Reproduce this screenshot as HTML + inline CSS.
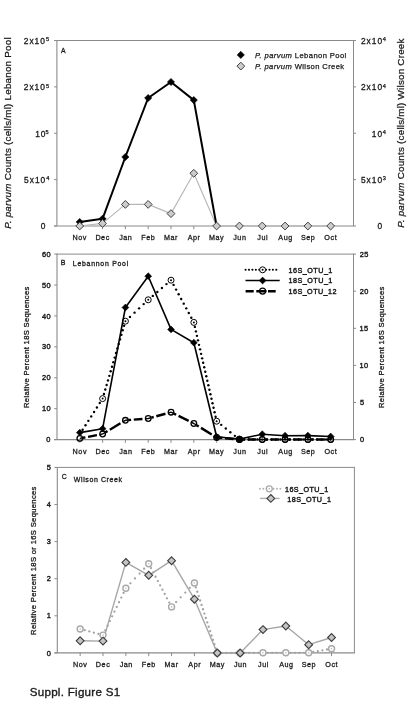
<!DOCTYPE html>
<html><head><meta charset="utf-8"><style>
html,body{margin:0;padding:0;background:#fff;}
body{width:411px;height:715px;overflow:hidden;}
svg{display:block;font-family:"Liberation Sans",sans-serif;filter:grayscale(1);}
</style></head><body>
<svg width="411" height="715" viewBox="0 0 411 715">
<rect width="411" height="715" fill="#fff"/>
<path d="M56.9 40.5H353.5" stroke="#8a8a8a" stroke-width="1"/>
<path d="M56.9 40.0V226.0" stroke="#8a8a8a" stroke-width="1.1"/>
<path d="M54.1 226.0H354.0" stroke="#8a8a8a" stroke-width="1.1"/>
<path d="M353.5 40.0V226.0" stroke="#8a8a8a" stroke-width="1"/>
<path d="M54.1 40.50H56.9" stroke="#8a8a8a" stroke-width="1"/>
<path d="M54.1 86.88H56.9" stroke="#8a8a8a" stroke-width="1"/>
<path d="M54.1 133.25H56.9" stroke="#8a8a8a" stroke-width="1"/>
<path d="M54.1 179.62H56.9" stroke="#8a8a8a" stroke-width="1"/>
<path d="M54.1 226.00H56.9" stroke="#8a8a8a" stroke-width="1"/>
<path d="M353.5 40.50H356.0" stroke="#8a8a8a" stroke-width="1"/>
<path d="M353.5 86.88H356.0" stroke="#8a8a8a" stroke-width="1"/>
<path d="M353.5 133.25H356.0" stroke="#8a8a8a" stroke-width="1"/>
<path d="M353.5 179.62H356.0" stroke="#8a8a8a" stroke-width="1"/>
<path d="M353.5 226.00H356.0" stroke="#8a8a8a" stroke-width="1"/>
<path d="M79.72 226.0V229.2" stroke="#8a8a8a" stroke-width="1"/>
<path d="M102.53 226.0V229.2" stroke="#8a8a8a" stroke-width="1"/>
<path d="M125.35 226.0V229.2" stroke="#8a8a8a" stroke-width="1"/>
<path d="M148.16 226.0V229.2" stroke="#8a8a8a" stroke-width="1"/>
<path d="M170.98 226.0V229.2" stroke="#8a8a8a" stroke-width="1"/>
<path d="M193.79 226.0V229.2" stroke="#8a8a8a" stroke-width="1"/>
<path d="M216.61 226.0V229.2" stroke="#8a8a8a" stroke-width="1"/>
<path d="M239.42 226.0V229.2" stroke="#8a8a8a" stroke-width="1"/>
<path d="M262.24 226.0V229.2" stroke="#8a8a8a" stroke-width="1"/>
<path d="M285.05 226.0V229.2" stroke="#8a8a8a" stroke-width="1"/>
<path d="M307.87 226.0V229.2" stroke="#8a8a8a" stroke-width="1"/>
<path d="M330.68 226.0V229.2" stroke="#8a8a8a" stroke-width="1"/>
<text x="23.78" y="43.80" font-size="8.4" letter-spacing="1.000" font-weight="normal" font-style="normal" fill="#1a1a1a" stroke="#1a1a1a" stroke-width="0.3">2x10</text>
<text x="46.08" y="41.30" font-size="5.6" letter-spacing="0.000" font-weight="normal" font-style="normal" fill="#1a1a1a" stroke="#1a1a1a" stroke-width="0.25">5</text>
<text x="23.78" y="90.17" font-size="8.4" letter-spacing="1.000" font-weight="normal" font-style="normal" fill="#1a1a1a" stroke="#1a1a1a" stroke-width="0.3">2x10</text>
<text x="45.88" y="87.67" font-size="5.6" letter-spacing="0.000" font-weight="normal" font-style="normal" fill="#1a1a1a" stroke="#1a1a1a" stroke-width="0.25">5</text>
<text x="35.33" y="136.55" font-size="8.4" letter-spacing="0.800" font-weight="normal" font-style="normal" fill="#1a1a1a" stroke="#1a1a1a" stroke-width="0.3">10</text>
<text x="45.58" y="134.05" font-size="5.6" letter-spacing="0.000" font-weight="normal" font-style="normal" fill="#1a1a1a" stroke="#1a1a1a" stroke-width="0.25">5</text>
<text x="24.06" y="182.93" font-size="8.4" letter-spacing="1.000" font-weight="normal" font-style="normal" fill="#1a1a1a" stroke="#1a1a1a" stroke-width="0.3">5x10</text>
<text x="46.19" y="180.43" font-size="5.6" letter-spacing="0.000" font-weight="normal" font-style="normal" fill="#1a1a1a" stroke="#1a1a1a" stroke-width="0.25">4</text>
<text x="40.66" y="229.30" font-size="8.4" letter-spacing="0.000" font-weight="normal" font-style="normal" fill="#1a1a1a" stroke="#1a1a1a" stroke-width="0.3">0</text>
<text x="360.91" y="43.80" font-size="8.4" letter-spacing="1.000" font-weight="normal" font-style="normal" fill="#1a1a1a" stroke="#1a1a1a" stroke-width="0.3">2x10</text>
<text x="382.79" y="41.30" font-size="5.6" letter-spacing="0.000" font-weight="normal" font-style="normal" fill="#1a1a1a" stroke="#1a1a1a" stroke-width="0.25">4</text>
<text x="360.91" y="90.17" font-size="8.4" letter-spacing="1.000" font-weight="normal" font-style="normal" fill="#1a1a1a" stroke="#1a1a1a" stroke-width="0.3">2x10</text>
<text x="382.79" y="87.67" font-size="5.6" letter-spacing="0.000" font-weight="normal" font-style="normal" fill="#1a1a1a" stroke="#1a1a1a" stroke-width="0.25">4</text>
<text x="371.81" y="136.55" font-size="8.4" letter-spacing="1.000" font-weight="normal" font-style="normal" fill="#1a1a1a" stroke="#1a1a1a" stroke-width="0.3">10</text>
<text x="382.79" y="134.05" font-size="5.6" letter-spacing="0.000" font-weight="normal" font-style="normal" fill="#1a1a1a" stroke="#1a1a1a" stroke-width="0.25">4</text>
<text x="360.91" y="182.93" font-size="8.4" letter-spacing="1.000" font-weight="normal" font-style="normal" fill="#1a1a1a" stroke="#1a1a1a" stroke-width="0.3">5x10</text>
<text x="382.68" y="180.43" font-size="5.6" letter-spacing="0.000" font-weight="normal" font-style="normal" fill="#1a1a1a" stroke="#1a1a1a" stroke-width="0.25">3</text>
<text x="377.53" y="229.30" font-size="8.4" letter-spacing="0.000" font-weight="normal" font-style="normal" fill="#1a1a1a" stroke="#1a1a1a" stroke-width="0.3">0</text>
<text x="72.51" y="239.90" font-size="7.2" letter-spacing="0.550" font-weight="normal" font-style="normal" fill="#1a1a1a" stroke="#1a1a1a" stroke-width="0.28">Nov</text>
<text x="95.39" y="239.90" font-size="7.2" letter-spacing="0.550" font-weight="normal" font-style="normal" fill="#1a1a1a" stroke="#1a1a1a" stroke-width="0.28">Dec</text>
<text x="119.14" y="239.90" font-size="7.2" letter-spacing="0.550" font-weight="normal" font-style="normal" fill="#1a1a1a" stroke="#1a1a1a" stroke-width="0.28">Jan</text>
<text x="141.28" y="239.90" font-size="7.2" letter-spacing="0.550" font-weight="normal" font-style="normal" fill="#1a1a1a" stroke="#1a1a1a" stroke-width="0.28">Feb</text>
<text x="163.98" y="239.90" font-size="7.2" letter-spacing="0.550" font-weight="normal" font-style="normal" fill="#1a1a1a" stroke="#1a1a1a" stroke-width="0.28">Mar</text>
<text x="187.70" y="239.90" font-size="7.2" letter-spacing="0.550" font-weight="normal" font-style="normal" fill="#1a1a1a" stroke="#1a1a1a" stroke-width="0.28">Apr</text>
<text x="208.97" y="239.90" font-size="7.2" letter-spacing="0.550" font-weight="normal" font-style="normal" fill="#1a1a1a" stroke="#1a1a1a" stroke-width="0.28">May</text>
<text x="233.22" y="239.90" font-size="7.2" letter-spacing="0.550" font-weight="normal" font-style="normal" fill="#1a1a1a" stroke="#1a1a1a" stroke-width="0.28">Jun</text>
<text x="257.26" y="239.90" font-size="7.2" letter-spacing="0.550" font-weight="normal" font-style="normal" fill="#1a1a1a" stroke="#1a1a1a" stroke-width="0.28">Jul</text>
<text x="278.35" y="239.90" font-size="7.2" letter-spacing="0.550" font-weight="normal" font-style="normal" fill="#1a1a1a" stroke="#1a1a1a" stroke-width="0.28">Aug</text>
<text x="300.88" y="239.90" font-size="7.2" letter-spacing="0.550" font-weight="normal" font-style="normal" fill="#1a1a1a" stroke="#1a1a1a" stroke-width="0.28">Sep</text>
<text x="324.37" y="239.90" font-size="7.2" letter-spacing="0.550" font-weight="normal" font-style="normal" fill="#1a1a1a" stroke="#1a1a1a" stroke-width="0.28">Oct</text>
<text x="61.00" y="52.50" font-size="6.8" letter-spacing="0.000" font-weight="normal" font-style="normal" fill="#1a1a1a" stroke="#1a1a1a" stroke-width="0.3">A</text>
<text transform="translate(11.10 0) rotate(-90)" x="-228.79" y="0" font-size="9.8" letter-spacing="0.233" font-weight="normal" font-style="normal" fill="#1a1a1a" stroke="#1a1a1a" stroke-width="0.25"><tspan font-style="italic">P. parvum</tspan> Counts (cells/ml) Lebanon Pool</text>
<text transform="translate(404.20 0) rotate(-90)" x="-227.79" y="0" font-size="9.8" letter-spacing="0.235" font-weight="normal" font-style="normal" fill="#1a1a1a" stroke="#1a1a1a" stroke-width="0.25"><tspan font-style="italic">P. parvum</tspan> Counts (cells/ml) Wilson Creek</text>
<path d="M79.72 226.00 L102.53 223.40 L125.35 204.40 L148.16 204.40 L170.98 213.60 L193.79 173.30 L216.61 226.00 L239.42 226.00 L262.24 226.00 L285.05 226.00 L307.87 226.00 L330.68 226.00" fill="none" stroke="#b8b8b8" stroke-width="1.15" stroke-linejoin="round" stroke-linecap="butt"/>
<path d="M79.72 222.00 L102.53 218.80 L125.35 157.00 L148.16 98.00 L170.98 82.00 L193.79 100.10 L216.61 226.00" fill="none" stroke="#000" stroke-width="2.0" stroke-linejoin="round" stroke-linecap="butt"/>
<path d="M79.72 218.40L83.32 222.00L79.72 225.60L76.12 222.00Z" fill="#000" stroke="#000" stroke-width="0.6"/>
<path d="M102.53 215.20L106.13 218.80L102.53 222.40L98.93 218.80Z" fill="#000" stroke="#000" stroke-width="0.6"/>
<path d="M125.35 153.40L128.95 157.00L125.35 160.60L121.75 157.00Z" fill="#000" stroke="#000" stroke-width="0.6"/>
<path d="M148.16 94.40L151.76 98.00L148.16 101.60L144.56 98.00Z" fill="#000" stroke="#000" stroke-width="0.6"/>
<path d="M170.98 78.40L174.58 82.00L170.98 85.60L167.38 82.00Z" fill="#000" stroke="#000" stroke-width="0.6"/>
<path d="M193.79 96.50L197.39 100.10L193.79 103.70L190.19 100.10Z" fill="#000" stroke="#000" stroke-width="0.6"/>
<path d="M79.72 222.10L83.62 226.00L79.72 229.90L75.82 226.00Z" fill="#cccccc" stroke="#404040" stroke-width="1.0"/>
<path d="M102.53 219.50L106.43 223.40L102.53 227.30L98.63 223.40Z" fill="#cccccc" stroke="#404040" stroke-width="1.0"/>
<path d="M125.35 200.50L129.25 204.40L125.35 208.30L121.45 204.40Z" fill="#cccccc" stroke="#404040" stroke-width="1.0"/>
<path d="M148.16 200.50L152.06 204.40L148.16 208.30L144.26 204.40Z" fill="#cccccc" stroke="#404040" stroke-width="1.0"/>
<path d="M170.98 209.70L174.88 213.60L170.98 217.50L167.08 213.60Z" fill="#cccccc" stroke="#404040" stroke-width="1.0"/>
<path d="M193.79 169.40L197.69 173.30L193.79 177.20L189.89 173.30Z" fill="#cccccc" stroke="#404040" stroke-width="1.0"/>
<path d="M216.61 222.10L220.51 226.00L216.61 229.90L212.71 226.00Z" fill="#cccccc" stroke="#404040" stroke-width="1.0"/>
<path d="M239.42 222.10L243.32 226.00L239.42 229.90L235.52 226.00Z" fill="#cccccc" stroke="#404040" stroke-width="1.0"/>
<path d="M262.24 222.10L266.14 226.00L262.24 229.90L258.34 226.00Z" fill="#cccccc" stroke="#404040" stroke-width="1.0"/>
<path d="M285.05 222.10L288.95 226.00L285.05 229.90L281.15 226.00Z" fill="#cccccc" stroke="#404040" stroke-width="1.0"/>
<path d="M307.87 222.10L311.77 226.00L307.87 229.90L303.97 226.00Z" fill="#cccccc" stroke="#404040" stroke-width="1.0"/>
<path d="M330.68 222.10L334.58 226.00L330.68 229.90L326.78 226.00Z" fill="#cccccc" stroke="#404040" stroke-width="1.0"/>
<path d="M240.80 51.30L244.40 54.90L240.80 58.50L237.20 54.90Z" fill="#000" stroke="#000" stroke-width="0.6"/>
<path d="M240.80 62.20L244.70 66.10L240.80 70.00L236.90 66.10Z" fill="#cccccc" stroke="#404040" stroke-width="1.0"/>
<text x="254.97" y="58.40" font-size="7.6" letter-spacing="0.413" font-weight="normal" font-style="normal" fill="#1a1a1a" stroke="#1a1a1a" stroke-width="0.25"><tspan font-style="italic">P. parvum</tspan> Lebanon Pool</text>
<text x="254.97" y="69.00" font-size="7.6" letter-spacing="0.395" font-weight="normal" font-style="normal" fill="#1a1a1a" stroke="#1a1a1a" stroke-width="0.25"><tspan font-style="italic">P. parvum</tspan> Wilson Creek</text>
<path d="M57.0 254.1H353.5" stroke="#8a8a8a" stroke-width="1"/>
<path d="M57.0 253.6V439.6" stroke="#8a8a8a" stroke-width="1.1"/>
<path d="M54.2 439.6H354.0" stroke="#8a8a8a" stroke-width="1.1"/>
<path d="M353.5 253.6V439.6" stroke="#8a8a8a" stroke-width="1"/>
<path d="M54.2 254.10H57.0" stroke="#8a8a8a" stroke-width="1"/>
<path d="M54.2 285.02H57.0" stroke="#8a8a8a" stroke-width="1"/>
<path d="M54.2 315.93H57.0" stroke="#8a8a8a" stroke-width="1"/>
<path d="M54.2 346.85H57.0" stroke="#8a8a8a" stroke-width="1"/>
<path d="M54.2 377.77H57.0" stroke="#8a8a8a" stroke-width="1"/>
<path d="M54.2 408.68H57.0" stroke="#8a8a8a" stroke-width="1"/>
<path d="M54.2 439.60H57.0" stroke="#8a8a8a" stroke-width="1"/>
<path d="M353.5 254.10H356.0" stroke="#8a8a8a" stroke-width="1"/>
<path d="M353.5 291.20H356.0" stroke="#8a8a8a" stroke-width="1"/>
<path d="M353.5 328.30H356.0" stroke="#8a8a8a" stroke-width="1"/>
<path d="M353.5 365.40H356.0" stroke="#8a8a8a" stroke-width="1"/>
<path d="M353.5 402.50H356.0" stroke="#8a8a8a" stroke-width="1"/>
<path d="M353.5 439.60H356.0" stroke="#8a8a8a" stroke-width="1"/>
<path d="M79.81 439.6V442.8" stroke="#8a8a8a" stroke-width="1"/>
<path d="M102.62 439.6V442.8" stroke="#8a8a8a" stroke-width="1"/>
<path d="M125.42 439.6V442.8" stroke="#8a8a8a" stroke-width="1"/>
<path d="M148.23 439.6V442.8" stroke="#8a8a8a" stroke-width="1"/>
<path d="M171.04 439.6V442.8" stroke="#8a8a8a" stroke-width="1"/>
<path d="M193.85 439.6V442.8" stroke="#8a8a8a" stroke-width="1"/>
<path d="M216.65 439.6V442.8" stroke="#8a8a8a" stroke-width="1"/>
<path d="M239.46 439.6V442.8" stroke="#8a8a8a" stroke-width="1"/>
<path d="M262.27 439.6V442.8" stroke="#8a8a8a" stroke-width="1"/>
<path d="M285.08 439.6V442.8" stroke="#8a8a8a" stroke-width="1"/>
<path d="M307.88 439.6V442.8" stroke="#8a8a8a" stroke-width="1"/>
<path d="M330.69 439.6V442.8" stroke="#8a8a8a" stroke-width="1"/>
<text x="41.88" y="256.70" font-size="7.4" letter-spacing="0.400" font-weight="normal" font-style="normal" fill="#1a1a1a" stroke="#1a1a1a" stroke-width="0.4">60</text>
<text x="41.88" y="287.62" font-size="7.4" letter-spacing="0.400" font-weight="normal" font-style="normal" fill="#1a1a1a" stroke="#1a1a1a" stroke-width="0.4">50</text>
<text x="41.88" y="318.53" font-size="7.4" letter-spacing="0.400" font-weight="normal" font-style="normal" fill="#1a1a1a" stroke="#1a1a1a" stroke-width="0.4">40</text>
<text x="41.88" y="349.45" font-size="7.4" letter-spacing="0.400" font-weight="normal" font-style="normal" fill="#1a1a1a" stroke="#1a1a1a" stroke-width="0.4">30</text>
<text x="41.88" y="380.37" font-size="7.4" letter-spacing="0.400" font-weight="normal" font-style="normal" fill="#1a1a1a" stroke="#1a1a1a" stroke-width="0.4">20</text>
<text x="41.88" y="411.28" font-size="7.4" letter-spacing="0.400" font-weight="normal" font-style="normal" fill="#1a1a1a" stroke="#1a1a1a" stroke-width="0.4">10</text>
<text x="46.35" y="442.20" font-size="7.4" letter-spacing="0.400" font-weight="normal" font-style="normal" fill="#1a1a1a" stroke="#1a1a1a" stroke-width="0.4">0</text>
<text x="359.83" y="256.70" font-size="7.4" letter-spacing="0.400" font-weight="normal" font-style="normal" fill="#1a1a1a" stroke="#1a1a1a" stroke-width="0.4">25</text>
<text x="359.83" y="293.80" font-size="7.4" letter-spacing="0.400" font-weight="normal" font-style="normal" fill="#1a1a1a" stroke="#1a1a1a" stroke-width="0.4">20</text>
<text x="359.61" y="330.90" font-size="7.4" letter-spacing="0.400" font-weight="normal" font-style="normal" fill="#1a1a1a" stroke="#1a1a1a" stroke-width="0.4">15</text>
<text x="359.61" y="368.00" font-size="7.4" letter-spacing="0.400" font-weight="normal" font-style="normal" fill="#1a1a1a" stroke="#1a1a1a" stroke-width="0.4">10</text>
<text x="359.90" y="405.10" font-size="7.4" letter-spacing="0.400" font-weight="normal" font-style="normal" fill="#1a1a1a" stroke="#1a1a1a" stroke-width="0.4">5</text>
<text x="359.90" y="442.20" font-size="7.4" letter-spacing="0.400" font-weight="normal" font-style="normal" fill="#1a1a1a" stroke="#1a1a1a" stroke-width="0.4">0</text>
<text x="72.60" y="453.50" font-size="7.2" letter-spacing="0.550" font-weight="normal" font-style="normal" fill="#1a1a1a" stroke="#1a1a1a" stroke-width="0.28">Nov</text>
<text x="95.48" y="453.50" font-size="7.2" letter-spacing="0.550" font-weight="normal" font-style="normal" fill="#1a1a1a" stroke="#1a1a1a" stroke-width="0.28">Dec</text>
<text x="119.22" y="453.50" font-size="7.2" letter-spacing="0.550" font-weight="normal" font-style="normal" fill="#1a1a1a" stroke="#1a1a1a" stroke-width="0.28">Jan</text>
<text x="141.34" y="453.50" font-size="7.2" letter-spacing="0.550" font-weight="normal" font-style="normal" fill="#1a1a1a" stroke="#1a1a1a" stroke-width="0.28">Feb</text>
<text x="164.04" y="453.50" font-size="7.2" letter-spacing="0.550" font-weight="normal" font-style="normal" fill="#1a1a1a" stroke="#1a1a1a" stroke-width="0.28">Mar</text>
<text x="187.75" y="453.50" font-size="7.2" letter-spacing="0.550" font-weight="normal" font-style="normal" fill="#1a1a1a" stroke="#1a1a1a" stroke-width="0.28">Apr</text>
<text x="209.01" y="453.50" font-size="7.2" letter-spacing="0.550" font-weight="normal" font-style="normal" fill="#1a1a1a" stroke="#1a1a1a" stroke-width="0.28">May</text>
<text x="233.26" y="453.50" font-size="7.2" letter-spacing="0.550" font-weight="normal" font-style="normal" fill="#1a1a1a" stroke="#1a1a1a" stroke-width="0.28">Jun</text>
<text x="257.29" y="453.50" font-size="7.2" letter-spacing="0.550" font-weight="normal" font-style="normal" fill="#1a1a1a" stroke="#1a1a1a" stroke-width="0.28">Jul</text>
<text x="278.37" y="453.50" font-size="7.2" letter-spacing="0.550" font-weight="normal" font-style="normal" fill="#1a1a1a" stroke="#1a1a1a" stroke-width="0.28">Aug</text>
<text x="300.89" y="453.50" font-size="7.2" letter-spacing="0.550" font-weight="normal" font-style="normal" fill="#1a1a1a" stroke="#1a1a1a" stroke-width="0.28">Sep</text>
<text x="324.38" y="453.50" font-size="7.2" letter-spacing="0.550" font-weight="normal" font-style="normal" fill="#1a1a1a" stroke="#1a1a1a" stroke-width="0.28">Oct</text>
<text x="60.84" y="264.50" font-size="7.0" letter-spacing="0.000" font-weight="normal" font-style="normal" fill="#1a1a1a" stroke="#1a1a1a" stroke-width="0.3">B</text>
<text x="72.85" y="265.90" font-size="6.9" letter-spacing="0.750" font-weight="normal" font-style="normal" fill="#1a1a1a" stroke="#1a1a1a" stroke-width="0.3">Lebannon Pool</text>
<text transform="translate(29.10 0) rotate(-90)" x="-408.01" y="0" font-size="7.6" letter-spacing="0.339" font-weight="normal" font-style="normal" fill="#1a1a1a" stroke="#1a1a1a" stroke-width="0.3">Relative Percent 18S Sequences</text>
<text transform="translate(384.00 0) rotate(-90)" x="-408.01" y="0" font-size="7.6" letter-spacing="0.339" font-weight="normal" font-style="normal" fill="#1a1a1a" stroke="#1a1a1a" stroke-width="0.3">Relative Percent 16S Sequences</text>
<path d="M82.95 437.79L85.40 437.32 M88.06 436.81L96.92 435.10 M105.36 432.35L107.50 431.06 M109.82 429.67L120.45 423.29 M128.61 420.05L131.11 419.85 M133.80 419.64L142.45 418.96 M151.32 417.65L153.73 416.98 M156.33 416.26L165.45 413.74 M173.91 413.62L176.15 414.73 M178.57 415.93L188.65 420.93 M196.57 425.17L198.70 426.48 M201.01 427.89L211.71 434.47 M219.84 437.78L222.33 438.00 M225.02 438.23L233.68 438.99 M242.66 439.50L245.16 439.50 M247.86 439.50L256.47 439.50 M265.47 439.50L267.97 439.50 M270.67 439.50L279.28 439.50 M288.28 439.50L290.78 439.50 M293.48 439.50L302.08 439.50 M311.08 439.50L313.58 439.50 M316.28 439.50L324.89 439.50" fill="none" stroke="#000" stroke-width="2.4" stroke-linecap="butt"/><path d="M79.81 438.40L82.95 437.79 M102.62 434.00L99.47 434.61 M102.62 434.00L105.36 432.35 M125.42 420.30L122.68 421.95 M125.42 420.30L128.61 420.05 M148.23 418.50L145.04 418.75 M148.23 418.50L151.32 417.65 M171.04 412.20L167.95 413.05 M171.04 412.20L173.91 413.62 M193.85 423.50L190.98 422.08 M193.85 423.50L196.57 425.17 M216.65 437.50L213.93 435.83 M216.65 437.50L219.84 437.78 M239.46 439.50L236.27 439.22 M239.46 439.50L242.66 439.50 M262.27 439.50L259.07 439.50 M262.27 439.50L265.47 439.50 M285.08 439.50L281.88 439.50 M285.08 439.50L288.28 439.50 M307.88 439.50L304.68 439.50 M307.88 439.50L311.08 439.50 M330.69 439.50L327.49 439.50" fill="none" stroke="#000" stroke-width="1.4" stroke-linecap="butt"/>
<circle cx="82.66" cy="429.75" r="1.20" fill="#000"/>
<circle cx="85.51" cy="425.30" r="1.20" fill="#000"/>
<circle cx="88.36" cy="420.85" r="1.20" fill="#000"/>
<circle cx="91.21" cy="416.40" r="1.20" fill="#000"/>
<circle cx="94.06" cy="411.95" r="1.20" fill="#000"/>
<circle cx="96.91" cy="407.50" r="1.20" fill="#000"/>
<circle cx="99.76" cy="403.05" r="1.20" fill="#000"/>
<circle cx="103.96" cy="394.05" r="1.20" fill="#000"/>
<circle cx="105.30" cy="389.49" r="1.20" fill="#000"/>
<circle cx="106.64" cy="384.94" r="1.20" fill="#000"/>
<circle cx="107.98" cy="380.39" r="1.20" fill="#000"/>
<circle cx="109.32" cy="375.84" r="1.20" fill="#000"/>
<circle cx="110.67" cy="371.28" r="1.20" fill="#000"/>
<circle cx="112.01" cy="366.73" r="1.20" fill="#000"/>
<circle cx="113.35" cy="362.18" r="1.20" fill="#000"/>
<circle cx="114.69" cy="357.62" r="1.20" fill="#000"/>
<circle cx="116.03" cy="353.07" r="1.20" fill="#000"/>
<circle cx="117.37" cy="348.52" r="1.20" fill="#000"/>
<circle cx="118.71" cy="343.96" r="1.20" fill="#000"/>
<circle cx="120.06" cy="339.41" r="1.20" fill="#000"/>
<circle cx="121.40" cy="334.86" r="1.20" fill="#000"/>
<circle cx="122.74" cy="330.31" r="1.20" fill="#000"/>
<circle cx="124.08" cy="325.75" r="1.20" fill="#000"/>
<circle cx="129.98" cy="316.92" r="1.20" fill="#000"/>
<circle cx="134.55" cy="312.64" r="1.20" fill="#000"/>
<circle cx="139.11" cy="308.36" r="1.20" fill="#000"/>
<circle cx="143.67" cy="304.08" r="1.20" fill="#000"/>
<circle cx="152.79" cy="295.88" r="1.20" fill="#000"/>
<circle cx="157.35" cy="291.96" r="1.20" fill="#000"/>
<circle cx="161.92" cy="288.04" r="1.20" fill="#000"/>
<circle cx="166.48" cy="284.12" r="1.20" fill="#000"/>
<circle cx="173.57" cy="284.89" r="1.20" fill="#000"/>
<circle cx="176.11" cy="289.58" r="1.20" fill="#000"/>
<circle cx="178.64" cy="294.27" r="1.20" fill="#000"/>
<circle cx="181.18" cy="298.96" r="1.20" fill="#000"/>
<circle cx="183.71" cy="303.64" r="1.20" fill="#000"/>
<circle cx="186.24" cy="308.33" r="1.20" fill="#000"/>
<circle cx="188.78" cy="313.02" r="1.20" fill="#000"/>
<circle cx="191.31" cy="317.71" r="1.20" fill="#000"/>
<circle cx="194.88" cy="326.89" r="1.20" fill="#000"/>
<circle cx="195.92" cy="331.38" r="1.20" fill="#000"/>
<circle cx="196.96" cy="335.87" r="1.20" fill="#000"/>
<circle cx="197.99" cy="340.36" r="1.20" fill="#000"/>
<circle cx="199.03" cy="344.85" r="1.20" fill="#000"/>
<circle cx="200.07" cy="349.35" r="1.20" fill="#000"/>
<circle cx="201.10" cy="353.84" r="1.20" fill="#000"/>
<circle cx="202.14" cy="358.33" r="1.20" fill="#000"/>
<circle cx="203.18" cy="362.82" r="1.20" fill="#000"/>
<circle cx="204.21" cy="367.31" r="1.20" fill="#000"/>
<circle cx="205.25" cy="371.80" r="1.20" fill="#000"/>
<circle cx="206.29" cy="376.29" r="1.20" fill="#000"/>
<circle cx="207.32" cy="380.78" r="1.20" fill="#000"/>
<circle cx="208.36" cy="385.27" r="1.20" fill="#000"/>
<circle cx="209.40" cy="389.76" r="1.20" fill="#000"/>
<circle cx="210.43" cy="394.25" r="1.20" fill="#000"/>
<circle cx="211.47" cy="398.75" r="1.20" fill="#000"/>
<circle cx="212.51" cy="403.24" r="1.20" fill="#000"/>
<circle cx="213.54" cy="407.73" r="1.20" fill="#000"/>
<circle cx="214.58" cy="412.22" r="1.20" fill="#000"/>
<circle cx="215.62" cy="416.71" r="1.20" fill="#000"/>
<circle cx="221.22" cy="424.86" r="1.20" fill="#000"/>
<circle cx="225.78" cy="428.52" r="1.20" fill="#000"/>
<circle cx="230.34" cy="432.18" r="1.20" fill="#000"/>
<circle cx="234.90" cy="435.84" r="1.20" fill="#000"/>
<circle cx="244.02" cy="439.50" r="1.20" fill="#000"/>
<circle cx="248.58" cy="439.50" r="1.20" fill="#000"/>
<circle cx="253.15" cy="439.50" r="1.20" fill="#000"/>
<circle cx="257.71" cy="439.50" r="1.20" fill="#000"/>
<circle cx="266.83" cy="439.50" r="1.20" fill="#000"/>
<circle cx="271.39" cy="439.50" r="1.20" fill="#000"/>
<circle cx="275.95" cy="439.50" r="1.20" fill="#000"/>
<circle cx="280.52" cy="439.50" r="1.20" fill="#000"/>
<circle cx="289.64" cy="439.50" r="1.20" fill="#000"/>
<circle cx="294.20" cy="439.50" r="1.20" fill="#000"/>
<circle cx="298.76" cy="439.50" r="1.20" fill="#000"/>
<circle cx="303.32" cy="439.50" r="1.20" fill="#000"/>
<circle cx="312.45" cy="439.50" r="1.20" fill="#000"/>
<circle cx="317.01" cy="439.50" r="1.20" fill="#000"/>
<circle cx="321.57" cy="439.50" r="1.20" fill="#000"/>
<circle cx="326.13" cy="439.50" r="1.20" fill="#000"/>
<path d="M79.81 432.60 L102.62 428.70 L125.42 307.50 L148.23 276.20 L171.04 329.40 L193.85 342.70 L216.65 436.80 L239.46 439.10 L262.27 434.20 L285.08 435.70 L307.88 435.60 L330.69 436.50" fill="none" stroke="#000" stroke-width="1.6" stroke-linejoin="round" stroke-linecap="butt"/>
<circle cx="102.62" cy="398.60" r="3.0" fill="none" stroke="#000" stroke-width="1.0"/>
<circle cx="102.62" cy="398.60" r="1.0" fill="#000"/>
<circle cx="125.42" cy="321.20" r="3.0" fill="none" stroke="#000" stroke-width="1.0"/>
<circle cx="125.42" cy="321.20" r="1.0" fill="#000"/>
<circle cx="148.23" cy="299.80" r="3.0" fill="none" stroke="#000" stroke-width="1.0"/>
<circle cx="148.23" cy="299.80" r="1.0" fill="#000"/>
<circle cx="171.04" cy="280.20" r="3.0" fill="none" stroke="#000" stroke-width="1.0"/>
<circle cx="171.04" cy="280.20" r="1.0" fill="#000"/>
<circle cx="193.85" cy="322.40" r="3.0" fill="none" stroke="#000" stroke-width="1.0"/>
<circle cx="193.85" cy="322.40" r="1.0" fill="#000"/>
<circle cx="216.65" cy="421.20" r="3.0" fill="none" stroke="#000" stroke-width="1.0"/>
<circle cx="216.65" cy="421.20" r="1.0" fill="#000"/>
<circle cx="239.46" cy="439.50" r="3.0" fill="none" stroke="#000" stroke-width="1.0"/>
<circle cx="239.46" cy="439.50" r="1.0" fill="#000"/>
<circle cx="262.27" cy="439.50" r="3.0" fill="none" stroke="#000" stroke-width="1.0"/>
<circle cx="262.27" cy="439.50" r="1.0" fill="#000"/>
<circle cx="285.08" cy="439.50" r="3.0" fill="none" stroke="#000" stroke-width="1.0"/>
<circle cx="285.08" cy="439.50" r="1.0" fill="#000"/>
<circle cx="307.88" cy="439.50" r="3.0" fill="none" stroke="#000" stroke-width="1.0"/>
<circle cx="307.88" cy="439.50" r="1.0" fill="#000"/>
<circle cx="330.69" cy="439.50" r="3.0" fill="none" stroke="#000" stroke-width="1.0"/>
<circle cx="330.69" cy="439.50" r="1.0" fill="#000"/>
<circle cx="79.81" cy="438.40" r="2.8" fill="none" stroke="#000" stroke-width="1.3"/>
<circle cx="102.62" cy="434.00" r="2.8" fill="none" stroke="#000" stroke-width="1.3"/>
<circle cx="125.42" cy="420.30" r="2.8" fill="none" stroke="#000" stroke-width="1.3"/>
<circle cx="148.23" cy="418.50" r="2.8" fill="none" stroke="#000" stroke-width="1.3"/>
<circle cx="171.04" cy="412.20" r="2.8" fill="none" stroke="#000" stroke-width="1.3"/>
<circle cx="193.85" cy="423.50" r="2.8" fill="none" stroke="#000" stroke-width="1.3"/>
<circle cx="216.65" cy="437.50" r="2.8" fill="none" stroke="#000" stroke-width="1.3"/>
<circle cx="239.46" cy="439.50" r="2.8" fill="none" stroke="#000" stroke-width="1.3"/>
<circle cx="262.27" cy="439.50" r="2.8" fill="none" stroke="#000" stroke-width="1.3"/>
<circle cx="285.08" cy="439.50" r="2.8" fill="none" stroke="#000" stroke-width="1.3"/>
<circle cx="307.88" cy="439.50" r="2.8" fill="none" stroke="#000" stroke-width="1.3"/>
<circle cx="330.69" cy="439.50" r="2.8" fill="none" stroke="#000" stroke-width="1.3"/>
<circle cx="239.46" cy="439.3" r="3.5" fill="#000"/>
<path d="M79.81 429.20L83.21 432.60L79.81 436.00L76.41 432.60Z" fill="#000" stroke="#000" stroke-width="0.6"/>
<path d="M102.62 425.30L106.02 428.70L102.62 432.10L99.22 428.70Z" fill="#000" stroke="#000" stroke-width="0.6"/>
<path d="M125.42 304.10L128.82 307.50L125.42 310.90L122.02 307.50Z" fill="#000" stroke="#000" stroke-width="0.6"/>
<path d="M148.23 272.80L151.63 276.20L148.23 279.60L144.83 276.20Z" fill="#000" stroke="#000" stroke-width="0.6"/>
<path d="M171.04 326.00L174.44 329.40L171.04 332.80L167.64 329.40Z" fill="#000" stroke="#000" stroke-width="0.6"/>
<path d="M193.85 339.30L197.25 342.70L193.85 346.10L190.45 342.70Z" fill="#000" stroke="#000" stroke-width="0.6"/>
<path d="M216.65 433.40L220.05 436.80L216.65 440.20L213.25 436.80Z" fill="#000" stroke="#000" stroke-width="0.6"/>
<path d="M239.46 435.70L242.86 439.10L239.46 442.50L236.06 439.10Z" fill="#000" stroke="#000" stroke-width="0.6"/>
<path d="M262.27 430.80L265.67 434.20L262.27 437.60L258.87 434.20Z" fill="#000" stroke="#000" stroke-width="0.6"/>
<path d="M285.08 432.30L288.48 435.70L285.08 439.10L281.68 435.70Z" fill="#000" stroke="#000" stroke-width="0.6"/>
<path d="M307.88 432.20L311.28 435.60L307.88 439.00L304.48 435.60Z" fill="#000" stroke="#000" stroke-width="0.6"/>
<path d="M330.69 433.10L334.09 436.50L330.69 439.90L327.29 436.50Z" fill="#000" stroke="#000" stroke-width="0.6"/>
<path d="M245.60 269.80 L279.60 269.80" fill="none" stroke="#000" stroke-width="2.1" stroke-linejoin="round" stroke-linecap="round" stroke-dasharray="0.01 3.4"/>
<circle cx="262.6" cy="269.8" r="3.0" fill="#fff" stroke="#000" stroke-width="1.0"/><circle cx="262.6" cy="269.8" r="1" fill="#000"/>
<path d="M245.50 280.50 L279.70 280.50" fill="none" stroke="#000" stroke-width="1.6" stroke-linejoin="round" stroke-linecap="butt"/>
<path d="M262.60 277.10L266.00 280.50L262.60 283.90L259.20 280.50Z" fill="#000" stroke="#000" stroke-width="0.6"/>
<path d="M245.60 291.20 L275.80 291.20" fill="none" stroke="#000" stroke-width="2.4" stroke-linejoin="round" stroke-linecap="butt" stroke-dasharray="8.1 2.6 10.2 1.5 7.7"/>
<circle cx="262.6" cy="291.1" r="3.0" fill="none" stroke="#000" stroke-width="1.2"/>
<text x="288.52" y="272.60" font-size="7.2" letter-spacing="0.488" font-weight="normal" font-style="normal" fill="#1a1a1a" stroke="#1a1a1a" stroke-width="0.42">16S_OTU_1</text>
<text x="288.52" y="283.20" font-size="7.2" letter-spacing="0.488" font-weight="normal" font-style="normal" fill="#1a1a1a" stroke="#1a1a1a" stroke-width="0.42">18S_OTU_1</text>
<text x="288.52" y="293.70" font-size="7.2" letter-spacing="0.449" font-weight="normal" font-style="normal" fill="#1a1a1a" stroke="#1a1a1a" stroke-width="0.42">16S_OTU_12</text>
<path d="M57.3 467.4H354.4" stroke="#8a8a8a" stroke-width="1"/>
<path d="M57.3 466.9V652.9" stroke="#8a8a8a" stroke-width="1.1"/>
<path d="M54.5 652.9H354.9" stroke="#8a8a8a" stroke-width="1.1"/>
<path d="M354.4 466.9V652.9" stroke="#8a8a8a" stroke-width="1"/>
<path d="M54.5 467.40H57.3" stroke="#8a8a8a" stroke-width="1"/>
<path d="M54.5 504.50H57.3" stroke="#8a8a8a" stroke-width="1"/>
<path d="M54.5 541.60H57.3" stroke="#8a8a8a" stroke-width="1"/>
<path d="M54.5 578.70H57.3" stroke="#8a8a8a" stroke-width="1"/>
<path d="M54.5 615.80H57.3" stroke="#8a8a8a" stroke-width="1"/>
<path d="M54.5 652.90H57.3" stroke="#8a8a8a" stroke-width="1"/>
<path d="M80.15 652.9V656.1" stroke="#8a8a8a" stroke-width="1"/>
<path d="M103.01 652.9V656.1" stroke="#8a8a8a" stroke-width="1"/>
<path d="M125.86 652.9V656.1" stroke="#8a8a8a" stroke-width="1"/>
<path d="M148.72 652.9V656.1" stroke="#8a8a8a" stroke-width="1"/>
<path d="M171.57 652.9V656.1" stroke="#8a8a8a" stroke-width="1"/>
<path d="M194.42 652.9V656.1" stroke="#8a8a8a" stroke-width="1"/>
<path d="M217.28 652.9V656.1" stroke="#8a8a8a" stroke-width="1"/>
<path d="M240.13 652.9V656.1" stroke="#8a8a8a" stroke-width="1"/>
<path d="M262.98 652.9V656.1" stroke="#8a8a8a" stroke-width="1"/>
<path d="M285.84 652.9V656.1" stroke="#8a8a8a" stroke-width="1"/>
<path d="M308.69 652.9V656.1" stroke="#8a8a8a" stroke-width="1"/>
<path d="M331.55 652.9V656.1" stroke="#8a8a8a" stroke-width="1"/>
<text x="46.83" y="470.00" font-size="7.4" letter-spacing="0.000" font-weight="normal" font-style="normal" fill="#1a1a1a" stroke="#1a1a1a" stroke-width="0.4">5</text>
<text x="46.68" y="507.10" font-size="7.4" letter-spacing="0.000" font-weight="normal" font-style="normal" fill="#1a1a1a" stroke="#1a1a1a" stroke-width="0.4">4</text>
<text x="46.83" y="544.20" font-size="7.4" letter-spacing="0.000" font-weight="normal" font-style="normal" fill="#1a1a1a" stroke="#1a1a1a" stroke-width="0.4">3</text>
<text x="46.83" y="581.30" font-size="7.4" letter-spacing="0.000" font-weight="normal" font-style="normal" fill="#1a1a1a" stroke="#1a1a1a" stroke-width="0.4">2</text>
<text x="46.83" y="618.40" font-size="7.4" letter-spacing="0.000" font-weight="normal" font-style="normal" fill="#1a1a1a" stroke="#1a1a1a" stroke-width="0.4">1</text>
<text x="46.75" y="655.50" font-size="7.4" letter-spacing="0.000" font-weight="normal" font-style="normal" fill="#1a1a1a" stroke="#1a1a1a" stroke-width="0.4">0</text>
<text x="72.94" y="666.80" font-size="7.2" letter-spacing="0.550" font-weight="normal" font-style="normal" fill="#1a1a1a" stroke="#1a1a1a" stroke-width="0.28">Nov</text>
<text x="95.87" y="666.80" font-size="7.2" letter-spacing="0.550" font-weight="normal" font-style="normal" fill="#1a1a1a" stroke="#1a1a1a" stroke-width="0.28">Dec</text>
<text x="119.66" y="666.80" font-size="7.2" letter-spacing="0.550" font-weight="normal" font-style="normal" fill="#1a1a1a" stroke="#1a1a1a" stroke-width="0.28">Jan</text>
<text x="141.83" y="666.80" font-size="7.2" letter-spacing="0.550" font-weight="normal" font-style="normal" fill="#1a1a1a" stroke="#1a1a1a" stroke-width="0.28">Feb</text>
<text x="164.58" y="666.80" font-size="7.2" letter-spacing="0.550" font-weight="normal" font-style="normal" fill="#1a1a1a" stroke="#1a1a1a" stroke-width="0.28">Mar</text>
<text x="188.33" y="666.80" font-size="7.2" letter-spacing="0.550" font-weight="normal" font-style="normal" fill="#1a1a1a" stroke="#1a1a1a" stroke-width="0.28">Apr</text>
<text x="209.63" y="666.80" font-size="7.2" letter-spacing="0.550" font-weight="normal" font-style="normal" fill="#1a1a1a" stroke="#1a1a1a" stroke-width="0.28">May</text>
<text x="233.93" y="666.80" font-size="7.2" letter-spacing="0.550" font-weight="normal" font-style="normal" fill="#1a1a1a" stroke="#1a1a1a" stroke-width="0.28">Jun</text>
<text x="258.01" y="666.80" font-size="7.2" letter-spacing="0.550" font-weight="normal" font-style="normal" fill="#1a1a1a" stroke="#1a1a1a" stroke-width="0.28">Jul</text>
<text x="279.13" y="666.80" font-size="7.2" letter-spacing="0.550" font-weight="normal" font-style="normal" fill="#1a1a1a" stroke="#1a1a1a" stroke-width="0.28">Aug</text>
<text x="301.70" y="666.80" font-size="7.2" letter-spacing="0.550" font-weight="normal" font-style="normal" fill="#1a1a1a" stroke="#1a1a1a" stroke-width="0.28">Sep</text>
<text x="325.24" y="666.80" font-size="7.2" letter-spacing="0.550" font-weight="normal" font-style="normal" fill="#1a1a1a" stroke="#1a1a1a" stroke-width="0.28">Oct</text>
<text x="61.66" y="478.70" font-size="6.9" letter-spacing="0.000" font-weight="normal" font-style="normal" fill="#1a1a1a" stroke="#1a1a1a" stroke-width="0.3">C</text>
<text x="73.83" y="481.70" font-size="7.0" letter-spacing="0.599" font-weight="normal" font-style="normal" fill="#1a1a1a" stroke="#1a1a1a" stroke-width="0.3">Wilson Creek</text>
<text transform="translate(35.90 0) rotate(-90)" x="-634.91" y="0" font-size="7.6" letter-spacing="0.344" font-weight="normal" font-style="normal" fill="#1a1a1a" stroke="#1a1a1a" stroke-width="0.3">Relative Percent 18S or 16S Sequences</text>
<circle cx="84.72" cy="630.22" r="1.15" fill="#a2a2a2"/>
<circle cx="89.30" cy="631.44" r="1.15" fill="#a2a2a2"/>
<circle cx="93.87" cy="632.66" r="1.15" fill="#a2a2a2"/>
<circle cx="98.44" cy="633.88" r="1.15" fill="#a2a2a2"/>
<circle cx="105.29" cy="630.41" r="1.15" fill="#a2a2a2"/>
<circle cx="107.58" cy="625.72" r="1.15" fill="#a2a2a2"/>
<circle cx="109.86" cy="621.03" r="1.15" fill="#a2a2a2"/>
<circle cx="112.15" cy="616.34" r="1.15" fill="#a2a2a2"/>
<circle cx="114.43" cy="611.65" r="1.15" fill="#a2a2a2"/>
<circle cx="116.72" cy="606.96" r="1.15" fill="#a2a2a2"/>
<circle cx="119.01" cy="602.27" r="1.15" fill="#a2a2a2"/>
<circle cx="121.29" cy="597.58" r="1.15" fill="#a2a2a2"/>
<circle cx="123.58" cy="592.89" r="1.15" fill="#a2a2a2"/>
<circle cx="130.43" cy="583.32" r="1.15" fill="#a2a2a2"/>
<circle cx="135.00" cy="578.44" r="1.15" fill="#a2a2a2"/>
<circle cx="139.57" cy="573.56" r="1.15" fill="#a2a2a2"/>
<circle cx="144.14" cy="568.68" r="1.15" fill="#a2a2a2"/>
<circle cx="151.00" cy="568.11" r="1.15" fill="#a2a2a2"/>
<circle cx="153.29" cy="572.42" r="1.15" fill="#a2a2a2"/>
<circle cx="155.57" cy="576.73" r="1.15" fill="#a2a2a2"/>
<circle cx="157.86" cy="581.04" r="1.15" fill="#a2a2a2"/>
<circle cx="160.14" cy="585.35" r="1.15" fill="#a2a2a2"/>
<circle cx="162.43" cy="589.66" r="1.15" fill="#a2a2a2"/>
<circle cx="164.71" cy="593.97" r="1.15" fill="#a2a2a2"/>
<circle cx="167.00" cy="598.28" r="1.15" fill="#a2a2a2"/>
<circle cx="169.28" cy="602.59" r="1.15" fill="#a2a2a2"/>
<circle cx="176.14" cy="602.12" r="1.15" fill="#a2a2a2"/>
<circle cx="180.71" cy="597.34" r="1.15" fill="#a2a2a2"/>
<circle cx="185.28" cy="592.56" r="1.15" fill="#a2a2a2"/>
<circle cx="189.85" cy="587.78" r="1.15" fill="#a2a2a2"/>
<circle cx="195.85" cy="587.38" r="1.15" fill="#a2a2a2"/>
<circle cx="197.28" cy="591.75" r="1.15" fill="#a2a2a2"/>
<circle cx="198.71" cy="596.12" r="1.15" fill="#a2a2a2"/>
<circle cx="200.14" cy="600.50" r="1.15" fill="#a2a2a2"/>
<circle cx="201.56" cy="604.88" r="1.15" fill="#a2a2a2"/>
<circle cx="202.99" cy="609.25" r="1.15" fill="#a2a2a2"/>
<circle cx="204.42" cy="613.62" r="1.15" fill="#a2a2a2"/>
<circle cx="205.85" cy="618.00" r="1.15" fill="#a2a2a2"/>
<circle cx="207.28" cy="622.38" r="1.15" fill="#a2a2a2"/>
<circle cx="208.71" cy="626.75" r="1.15" fill="#a2a2a2"/>
<circle cx="210.14" cy="631.12" r="1.15" fill="#a2a2a2"/>
<circle cx="211.56" cy="635.50" r="1.15" fill="#a2a2a2"/>
<circle cx="212.99" cy="639.88" r="1.15" fill="#a2a2a2"/>
<circle cx="214.42" cy="644.25" r="1.15" fill="#a2a2a2"/>
<circle cx="215.85" cy="648.62" r="1.15" fill="#a2a2a2"/>
<circle cx="221.85" cy="653.00" r="1.15" fill="#a2a2a2"/>
<circle cx="226.42" cy="653.00" r="1.15" fill="#a2a2a2"/>
<circle cx="230.99" cy="653.00" r="1.15" fill="#a2a2a2"/>
<circle cx="235.56" cy="653.00" r="1.15" fill="#a2a2a2"/>
<circle cx="244.70" cy="652.96" r="1.15" fill="#a2a2a2"/>
<circle cx="249.27" cy="652.92" r="1.15" fill="#a2a2a2"/>
<circle cx="253.84" cy="652.88" r="1.15" fill="#a2a2a2"/>
<circle cx="258.41" cy="652.84" r="1.15" fill="#a2a2a2"/>
<circle cx="267.56" cy="652.80" r="1.15" fill="#a2a2a2"/>
<circle cx="272.13" cy="652.80" r="1.15" fill="#a2a2a2"/>
<circle cx="276.70" cy="652.80" r="1.15" fill="#a2a2a2"/>
<circle cx="281.27" cy="652.80" r="1.15" fill="#a2a2a2"/>
<circle cx="290.41" cy="652.80" r="1.15" fill="#a2a2a2"/>
<circle cx="294.98" cy="652.80" r="1.15" fill="#a2a2a2"/>
<circle cx="299.55" cy="652.80" r="1.15" fill="#a2a2a2"/>
<circle cx="304.12" cy="652.80" r="1.15" fill="#a2a2a2"/>
<circle cx="313.26" cy="651.98" r="1.15" fill="#a2a2a2"/>
<circle cx="317.83" cy="651.16" r="1.15" fill="#a2a2a2"/>
<circle cx="322.40" cy="650.34" r="1.15" fill="#a2a2a2"/>
<circle cx="326.98" cy="649.52" r="1.15" fill="#a2a2a2"/>
<path d="M80.15 640.80 L103.01 641.10 L125.86 562.40 L148.72 575.30 L171.57 560.70 L194.42 599.20 L217.28 653.00 L240.13 653.00 L262.98 629.60 L285.84 626.00 L308.69 644.70 L331.55 637.50" fill="none" stroke="#a6a6a6" stroke-width="1.4" stroke-linejoin="round" stroke-linecap="butt"/>
<circle cx="80.15" cy="629.00" r="3.0" fill="#fff" stroke="#a8a8a8" stroke-width="1.4"/>
<circle cx="80.15" cy="629.00" r="0.8" fill="#b8b8b8"/>
<circle cx="103.01" cy="635.10" r="3.0" fill="#fff" stroke="#a8a8a8" stroke-width="1.4"/>
<circle cx="103.01" cy="635.10" r="0.8" fill="#b8b8b8"/>
<circle cx="125.86" cy="588.20" r="3.0" fill="#fff" stroke="#a8a8a8" stroke-width="1.4"/>
<circle cx="125.86" cy="588.20" r="0.8" fill="#b8b8b8"/>
<circle cx="148.72" cy="563.80" r="3.0" fill="#fff" stroke="#a8a8a8" stroke-width="1.4"/>
<circle cx="148.72" cy="563.80" r="0.8" fill="#b8b8b8"/>
<circle cx="171.57" cy="606.90" r="3.0" fill="#fff" stroke="#a8a8a8" stroke-width="1.4"/>
<circle cx="171.57" cy="606.90" r="0.8" fill="#b8b8b8"/>
<circle cx="194.42" cy="583.00" r="3.0" fill="#fff" stroke="#a8a8a8" stroke-width="1.4"/>
<circle cx="194.42" cy="583.00" r="0.8" fill="#b8b8b8"/>
<circle cx="217.28" cy="653.00" r="3.0" fill="#fff" stroke="#a8a8a8" stroke-width="1.4"/>
<circle cx="217.28" cy="653.00" r="0.8" fill="#b8b8b8"/>
<circle cx="240.13" cy="653.00" r="3.0" fill="#fff" stroke="#a8a8a8" stroke-width="1.4"/>
<circle cx="240.13" cy="653.00" r="0.8" fill="#b8b8b8"/>
<circle cx="262.98" cy="652.80" r="3.0" fill="#fff" stroke="#a8a8a8" stroke-width="1.4"/>
<circle cx="262.98" cy="652.80" r="0.8" fill="#b8b8b8"/>
<circle cx="285.84" cy="652.80" r="3.0" fill="#fff" stroke="#a8a8a8" stroke-width="1.4"/>
<circle cx="285.84" cy="652.80" r="0.8" fill="#b8b8b8"/>
<circle cx="308.69" cy="652.80" r="3.0" fill="#fff" stroke="#a8a8a8" stroke-width="1.4"/>
<circle cx="308.69" cy="652.80" r="0.8" fill="#b8b8b8"/>
<circle cx="331.55" cy="648.70" r="3.0" fill="#fff" stroke="#a8a8a8" stroke-width="1.4"/>
<circle cx="331.55" cy="648.70" r="0.8" fill="#b8b8b8"/>
<path d="M80.15 636.90L84.05 640.80L80.15 644.70L76.25 640.80Z" fill="#c4c4c4" stroke="#3c3c3c" stroke-width="1.1"/>
<path d="M103.01 637.20L106.91 641.10L103.01 645.00L99.11 641.10Z" fill="#c4c4c4" stroke="#3c3c3c" stroke-width="1.1"/>
<path d="M125.86 558.50L129.76 562.40L125.86 566.30L121.96 562.40Z" fill="#c4c4c4" stroke="#3c3c3c" stroke-width="1.1"/>
<path d="M148.72 571.40L152.62 575.30L148.72 579.20L144.82 575.30Z" fill="#c4c4c4" stroke="#3c3c3c" stroke-width="1.1"/>
<path d="M171.57 556.80L175.47 560.70L171.57 564.60L167.67 560.70Z" fill="#c4c4c4" stroke="#3c3c3c" stroke-width="1.1"/>
<path d="M194.42 595.30L198.32 599.20L194.42 603.10L190.52 599.20Z" fill="#c4c4c4" stroke="#3c3c3c" stroke-width="1.1"/>
<path d="M217.28 649.10L221.18 653.00L217.28 656.90L213.38 653.00Z" fill="#c4c4c4" stroke="#3c3c3c" stroke-width="1.1"/>
<path d="M240.13 649.10L244.03 653.00L240.13 656.90L236.23 653.00Z" fill="#c4c4c4" stroke="#3c3c3c" stroke-width="1.1"/>
<path d="M262.98 625.70L266.88 629.60L262.98 633.50L259.08 629.60Z" fill="#c4c4c4" stroke="#3c3c3c" stroke-width="1.1"/>
<path d="M285.84 622.10L289.74 626.00L285.84 629.90L281.94 626.00Z" fill="#c4c4c4" stroke="#3c3c3c" stroke-width="1.1"/>
<path d="M308.69 640.80L312.59 644.70L308.69 648.60L304.79 644.70Z" fill="#c4c4c4" stroke="#3c3c3c" stroke-width="1.1"/>
<path d="M331.55 633.60L335.45 637.50L331.55 641.40L327.65 637.50Z" fill="#c4c4c4" stroke="#3c3c3c" stroke-width="1.1"/>
<path d="M259.90 488.80 L280.70 488.80" fill="none" stroke="#b0b0b0" stroke-width="1.9" stroke-linejoin="round" stroke-linecap="round" stroke-dasharray="0.01 3.4"/>
<circle cx="269.3" cy="488.8" r="3.0" fill="#fff" stroke="#a8a8a8" stroke-width="1.3"/><circle cx="269.3" cy="488.8" r="0.8" fill="#b0b0b0"/>
<path d="M259.90 498.40 L279.60 498.40" fill="none" stroke="#b0b0b0" stroke-width="1.4" stroke-linejoin="round" stroke-linecap="butt"/>
<path d="M270.80 494.50L274.70 498.40L270.80 502.30L266.90 498.40Z" fill="#c4c4c4" stroke="#3c3c3c" stroke-width="1.1"/>
<text x="285.02" y="491.90" font-size="7.2" letter-spacing="0.413" font-weight="normal" font-style="normal" fill="#1a1a1a" stroke="#1a1a1a" stroke-width="0.42">16S_OTU_1</text>
<text x="287.32" y="502.00" font-size="7.2" letter-spacing="0.463" font-weight="normal" font-style="normal" fill="#1a1a1a" stroke="#1a1a1a" stroke-width="0.42">18S_OTU_1</text>
<text x="29.72" y="696.00" font-size="11.6" letter-spacing="0.269" font-weight="normal" font-style="normal" fill="#1a1a1a" stroke="#1a1a1a" stroke-width="0.35">Suppl. Figure S1</text>
</svg>
</body></html>
